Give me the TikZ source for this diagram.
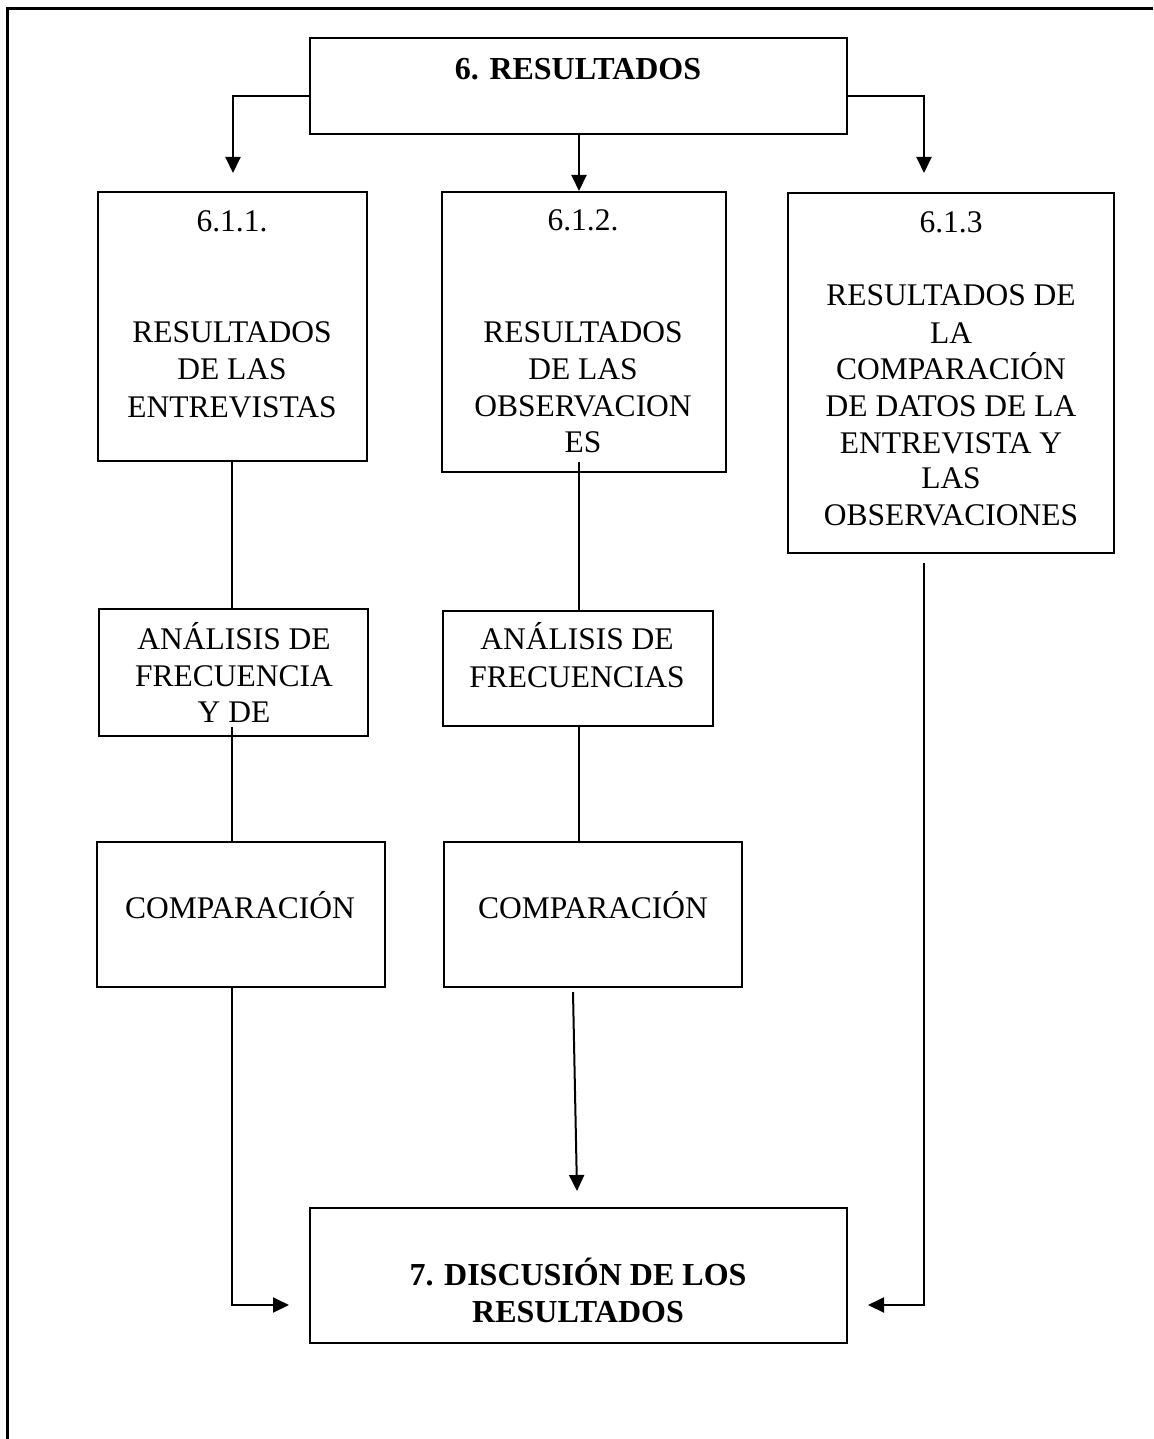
\documentclass[tikz,border=0pt]{standalone}
\usepackage{fontspec}
\setmainfont{Liberation Serif}
\usetikzlibrary{arrows.meta}
\begin{document}
\begin{tikzpicture}[x=1pt,y=-1pt,
  box/.style={draw, line width=2.2pt, inner sep=0pt},
  txt/.style={anchor=base, inner sep=0pt, font=\fontsize{31.5}{36.5}\selectfont},
  btxt/.style={anchor=base, inner sep=0pt, font=\fontsize{32}{37}\selectfont\bfseries},
  conn/.style={line width=2pt},
  arr/.style={line width=2pt, -{Triangle[length=16pt,width=15pt]}}]
\useasboundingbox (0,0) rectangle (1153,1439);
\draw[line width=3pt] (7,1439) -- (7,9) -- (1153,9);
% boxes
\node[box, minimum width=537pt, minimum height=96pt] (T) at (578.5,86) {};
\node[box, minimum width=269pt, minimum height=269pt] (A1) at (232.5,326.5) {};
\node[box, minimum width=284pt, minimum height=280pt] (B1) at (584,332) {};
\node[box, minimum width=326pt, minimum height=360pt] (C1) at (951,373) {};
\node[box, minimum width=269pt, minimum height=127pt] (A2) at (233.5,672.5) {};
\node[box, minimum width=270pt, minimum height=115pt] (B2) at (578,668.5) {};
\node[box, minimum width=288pt, minimum height=145pt] (A3) at (241,914.5) {};
\node[box, minimum width=298pt, minimum height=145pt] (B3) at (593,914.5) {};
\node[box, minimum width=537pt, minimum height=135pt] (D) at (578.5,1275.5) {};
% texts
\node[btxt] (tT) at (578,80) {6. RESULTADOS};
\node[txt] (tA1a) at (232,232) {6.1.1.};
\node[txt] (tA1b) at (232,342) {RESULTADOS};
\node[txt] (tA1c) at (232,379) {DE LAS};
\node[txt] (tA1d) at (232,417) {ENTREVISTAS};
\node[txt] (tB1a) at (583,231) {6.1.2.};
\node[txt] (tB1b) at (583,342) {RESULTADOS};
\node[txt] (tB1c) at (583,379) {DE LAS};
\node[txt] (tB1d) at (583,416) {OBSERVACION};
\node[txt] (tB1e) at (583,452) {ES};
\node[txt] (tC1a) at (951,233) {6.1.3};
\node[txt] (tC1b) at (951,305) {RESULTADOS DE};
\node[txt] (tC1c) at (951,343) {LA};
\node[txt] (tC1d) at (951,379) {COMPARACIÓN};
\node[txt] (tC1e) at (951,416) {DE DATOS DE LA};
\node[txt] (tC1f) at (951,453) {ENTREVISTA Y};
\node[txt] (tC1g) at (951,488) {LAS};
\node[txt] (tC1h) at (951,525) {OBSERVACIONES};
\node[txt] (tA2a) at (234,649) {ANÁLISIS DE};
\node[txt] (tA2b) at (234,686) {FRECUENCIA};
\node[txt] (tA2c) at (234,722) {Y DE};
\node[txt] (tB2a) at (577,649) {ANÁLISIS DE};
\node[txt] (tB2b) at (577,687) {FRECUENCIAS};
\node[txt] (tA3) at (240,918) {COMPARACIÓN};
\node[txt] (tB3) at (593,918) {COMPARACIÓN};
\node[btxt] (tDa) at (578,1285) {7. DISCUSIÓN DE LOS};
\node[btxt] (tDb) at (578,1322) {RESULTADOS};
% connector points
\coordinate (tipL) at (233,173);
\coordinate (tipM) at (579,191);
\coordinate (tipR) at (924,173);
\coordinate (a2s) at (232,727);
\coordinate (b1s) at (579,462);
\coordinate (b3s) at (573,992);
\coordinate (tipDM) at (577,1191);
\coordinate (tipDL) at (289,1305);
\coordinate (c1s) at (924,563);
\coordinate (tipDR) at (868,1305);
% connectors
\draw[arr] ([yshift=-10pt]T.west) -| (tipL);
\draw[arr] (tipM |- T.south) -- (tipM);
\draw[arr] ([yshift=-10pt]T.east) -| (tipR);
\draw[conn] (a2s |- A1.south) -- (a2s |- A2.north);
\draw[conn] (a2s) -- (a2s |- A3.north);
\draw[arr] (a2s |- A3.south) -- (a2s |- tipDL) -- (tipDL);
\draw[conn] (b1s) -- (b1s |- B2.north);
\draw[conn] (b1s |- B2.south) -- (b1s |- B3.north);
\draw[arr] (b3s) -- (tipDM);
\draw[arr] (c1s) |- (tipDR);
\end{tikzpicture}
\end{document}
